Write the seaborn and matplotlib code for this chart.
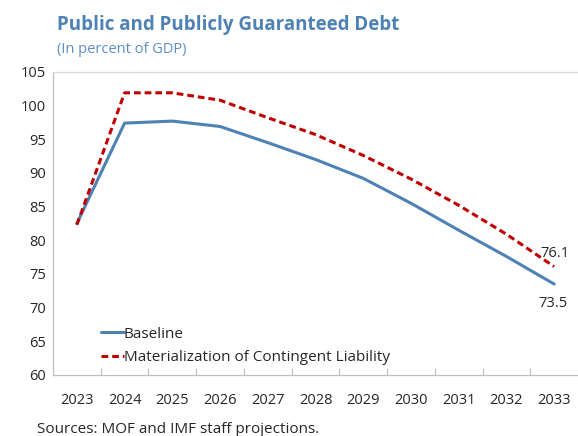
import matplotlib
matplotlib.use("Agg")
import matplotlib.pyplot as plt
import seaborn as sns
import pandas as pd
import numpy as np

years = ["2023", "2024", "2025", "2026", "2027", "2028", "2029", "2030", "2031", "2032", "2033"]
baseline = [82.5, 97.4, 97.7, 96.9, 94.5, 92.0, 89.2, 85.5, 81.5, 77.6, 73.5]
contingent = [82.3, 101.9, 101.9, 100.8, 98.2, 95.7, 92.6, 89.1, 85.2, 80.9, 76.1]
series_names = ["Baseline", "Materialization of Contingent Liability"]

sns.set_theme(style="white")
plt.rcParams["font.family"] = ["Open Sans", "DejaVu Sans"]

blue = "#4f82b4"
red = "#c00000"
text_col = "#262626"
fs = 10.5

df = pd.DataFrame({
    "year": years * 2,
    "value": baseline + contingent,
    "series": [series_names[0]] * len(years) + [series_names[1]] * len(years),
})
df["pos"] = list(range(len(years))) * 2

fig = plt.figure(figsize=(5.78, 4.36), dpi=100)
ax = fig.add_axes([0.0917, 0.14, 0.9083, 0.695])

sns.lineplot(data=df, x="pos", y="value", hue="series", style="series",
             palette={series_names[0]: blue, series_names[1]: red},
             dashes={series_names[0]: "", series_names[1]: (2.2, 1.3)},
             linewidth=2.2, ax=ax)

ax.set_xlim(-0.5, len(years) - 0.5)
ax.set_ylim(60, 105)
ax.set_yticks(np.arange(60, 106, 5))
ax.set_xticks(range(len(years)))
ax.set_xticklabels(years)
ax.set_xticks(np.arange(0.5, len(years) - 0.5, 1), minor=True)
ax.tick_params(axis="x", which="major", length=0, pad=13, labelsize=fs, labelcolor=text_col)
ax.tick_params(axis="x", which="minor", length=5, direction="in", color="#bfbfbf", width=0.8, bottom=True)
ax.tick_params(axis="y", length=0, pad=5, labelsize=fs, labelcolor=text_col)
ax.set_xlabel("")
ax.set_ylabel("")

for side in ["left", "bottom"]:
    ax.spines[side].set_color("#bfbfbf")
    ax.spines[side].set_linewidth(0.9)
ax.spines["right"].set_visible(False)
ax.spines["top"].set_color("#d9d9d9")
ax.spines["top"].set_linewidth(0.9)

ax.annotate(f"{contingent[-1]:.1f}", (len(years) - 1, contingent[-1]), xytext=(-10, 7),
            textcoords="offset points", fontsize=fs, color=text_col, ha="left", va="baseline")
ax.annotate(f"{baseline[-1]:.1f}", (len(years) - 1, baseline[-1]), xytext=(-11, -8.5),
            textcoords="offset points", fontsize=fs, color=text_col, ha="left", va="top")

handles, labels = ax.get_legend_handles_labels()
leg = ax.legend(handles, labels, loc="lower left", bbox_to_anchor=(0.065, -0.013),
                frameon=False, fontsize=11, handlelength=1.5, handletextpad=0.0,
                labelspacing=0.55, labelcolor=text_col)

fig.text(0.099, 0.931, "Public and Publicly Guaranteed Debt", fontsize=13.5,
         fontweight="bold", color=blue, ha="left", va="baseline")
fig.text(0.099, 0.878, "(In percent of GDP)", fontsize=fs, color="#5b8fc4",
         ha="left", va="baseline")
fig.text(0.064, 0.008, "Sources: MOF and IMF staff projections.", fontsize=11,
         color=text_col, ha="left", va="baseline")

fig.savefig("out.png", dpi=100)
